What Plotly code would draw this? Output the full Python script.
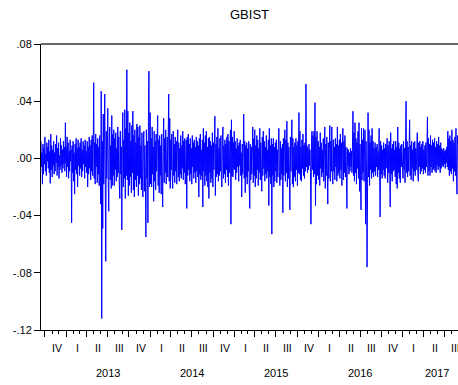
import pandas as pd
import plotly.graph_objects as go

# Daily GBIST returns (in percent), grouped by year
ret_2012 = [1.2, -0.6, 0.4, -1.8, 1.0, -1.1, 0.7, -0.4, 1.5, -0.9, 0.3, -1.2, 1.1, -0.2, 0.8, -0.7,
            1.3, -1.0, 0.5, -1.75, 1.7, -0.8, 0.9, -1.3, 0.6, -0.5, 1.2, -1.1, 0.4, -0.9, 1.0, -0.3,
            1.6, -1.2, 0.7, -0.6, 1.1, -1.4, 0.2, -0.8, 1.4, -0.5, 0.9, -1.0, 0.6, -0.7, 1.2, -0.4,
            0.8, -0.9, 2.5, -0.3]
ret_2013 = [0.8, -1.3, 1.5, -0.6, 1.1, -1.4, 0.5, -0.9, 1.3, -0.2,
            0.6, -4.5, 0.9, -1.0, 1.2, -1.6, 0.4, -2.5, 1.0, -0.8,
            1.4, -1.1, 0.7, -2.0, 1.3, -0.5, 0.8, -1.2, 1.1, -0.7,
            1.4, -1.3, 0.6, -0.9, 1.2, -0.4, 0.9, -1.4, 1.3, -0.6,
            0.5, -1.0, 1.2, -2.0, 0.8, -1.1, 1.5, -0.7, 0.9, -1.5,
            1.3, -0.9, 1.6, -1.2, 0.7, 5.3, -1.4, 1.1, -1.8, 1.7,
            -0.6, 1.0, -1.7, 1.4, -1.1, 0.8, -1.9, 1.6, -0.9, -3.2,
            4.7, -11.2, 1.2, -4.9, 3.1, -1.8, 0.6, 4.5, -2.2, -7.2,
            1.9, -1.4, 0.8, 3.5, -1.6, -3.7, 1.2, 2.2, -1.5, 0.9,
            -2.1, 3.0, -1.9, 1.7, -1.2, 2.0, -1.9, 1.4, -0.8, 1.8,
            -1.6, 0.7, -1.3, 2.2, -1.0, 1.5, -1.8, -2.8, 1.9, -1.1,
            0.8, -5.0, 1.6, 3.2, -2.0, 1.3, -1.4, 3.4, -2.8, 2.1,
            -1.2, 6.2, -1.5, 3.3, -2.6, 1.8, -1.9, 2.5, -1.3, 1.2,
            -2.4, 2.3, -1.0, 3.3, -2.2, 1.6, -2.7, 2.0, -1.5, 1.1,
            -2.0, 2.4, -1.2, 2.2, -2.6, 1.5, -1.8, 2.3, -1.4, 0.9,
            -2.2, 1.8, -1.1, -2.7, 1.4, 1.9, -2.3, 0.9, -1.6, -5.5,
            2.0, -1.4, 1.2, -4.5, 2.6, 6.1, -2.0, 1.5]
ret_2014 = [3.2, -1.8, 1.4, -2.0, 2.2, -1.1, 0.8, -3.0, 1.9, -1.6,
            1.2, -2.2, 1.7, -0.9, 1.0, 3.0, -1.9, 1.3, -2.4, 1.6,
            -1.2, 0.9, -2.5, 1.7, -1.5, -3.4, 1.1, 2.8, -1.7, 1.4,
            -1.0, 2.0, -1.8, 0.9, 1.5, -1.3, 0.6, 4.5, -1.6, 2.8,
            -2.1, 1.3, -0.8, 1.7, -1.4, -2.1, 1.9, -1.2, 1.0, -1.7,
            1.5, -0.9, 1.2, -1.8, 0.8, 2.0, -1.3, 1.1, -1.6, 0.7,
            -1.1, 1.6, -1.4, 0.9, -0.7, 1.9, -1.5, 1.2, -1.0, 1.4,
            -1.8, 0.6, 1.3, -3.5, 1.5, -1.2, 1.7, -0.8, 1.0, -1.6,
            1.4, -1.1, 0.7, -1.8, 1.6, -0.6, 1.1, -1.4, 1.3, -1.0,
            0.8, -1.7, 1.5, -0.9, 1.2, -1.3, 0.9, -2.7, 1.4, -1.1,
            1.7, -1.5, 0.6, -1.2, 1.3, -3.4, 2.1, -0.9, 1.1, -1.9,
            1.6, -1.2, 1.9, -1.6, 0.8, -2.0, 1.4, -2.8, 1.5, -1.0,
            1.2, -1.7, 0.9, -1.4, 1.8, -2.0, 1.1, -0.8, 1.3, 2.95,
            -2.6, 1.0, -1.3, 1.5, -1.1, 2.1, -1.6, 0.7, -1.2, 1.4,
            -0.9, 1.6, -1.5, -2.0, 1.2, 2.2, -1.4, 0.9, -1.1, 1.3,
            -1.7, 1.0, -0.8, 1.5, -1.3, 1.7, -1.9, 1.2, -1.0, 0.8,
            2.0, -4.6, 2.7, -1.2, 1.5, -1.3, 1.1, -0.7]
ret_2015 = [1.9, -0.8, 1.2, -1.5, 0.7, -1.0, 1.4, -0.6, 0.9, -1.6,
            1.1, -0.5, 1.3, -1.2, 0.4, -2.7, 1.0, -1.1, 0.6, 3.1,
            -1.4, 1.2, -2.4, 0.9, -1.3, 1.1, -1.8, 0.7, -0.9, 1.2,
            -2.0, -3.5, 1.0, -1.5, 0.8, -1.1, 0.5, 2.2, -1.7, 1.4,
            -1.2, 2.0, -2.0, 0.9, -1.4, 1.6, -0.8, 1.3, -1.9, 0.7,
            -1.0, 2.1, -1.5, 1.1, -0.9, -2.3, 1.5, -1.2, 1.9, -0.7,
            1.2, -1.6, 0.8, -1.1, 1.6, -1.4, 0.6, -0.9, 1.3, -3.3,
            2.1, -1.3, 0.9, -1.8, 1.4, -5.3, 1.0, -1.2, 1.4, -2.0,
            0.8, -1.6, 1.1, -0.9, 1.3, -1.7, 0.6, -1.3, 0.9, 2.1,
            -1.0, -1.9, 1.2, -1.5, 0.7, -1.1, 1.0, -3.8, 1.4, -1.2,
            0.9, 2.0, -1.6, 1.3, -1.0, 2.6, -2.0, 1.1, -1.4, 0.8,
            -1.2, -3.6, 1.5, -0.9, 1.2, 2.7, -1.8, 1.4, -2.0, 0.8,
            -1.3, 1.1, -1.6, 1.4, -0.8, 0.9, -1.9, 1.2, -1.0, 3.2,
            -1.1, 1.9, -1.5, 0.8, -1.6, 1.3, -0.7, 1.7, -1.2, 0.9,
            -1.4, 1.1, -0.9, 5.2, -0.6, 0.9, -1.0, 0.7, -0.8, 1.0,
            -0.5, 0.6, -1.0, -4.6, 1.2, 1.9, -0.8, 1.6, -1.3, 1.9,
            -1.1, 3.9, -3.3, 1.5, -1.8, 1.9, -1.2, 0.8]
ret_2016 = [1.2, -1.5, 0.8, -1.9, 1.8, -0.7, 1.1, -1.3, 0.6, -1.0,
            1.4, -1.6, 0.9, 2.2, -2.1, 1.0, -1.2, 1.5, -0.8, -3.2,
            1.1, -1.4, 0.7, 2.3, -1.6, 1.2, -0.9, 2.2, -1.1, -1.8,
            1.3, -0.9, 0.8, -1.5, 1.4, -0.6, 1.0, -1.6, 2.2, -1.2,
            0.9, -1.0, 1.3, -1.4, 1.7, -0.8, 1.1, -1.9, 0.6, 2.1,
            -1.5, 1.2, -1.0, 1.6, -1.3, 0.8, -0.9, -3.5, 0.7, -0.5,
            0.6, -1.1, 0.4, -0.9, 0.7, -0.6, 0.5, -1.0, 0.8, 3.3,
            -1.2, 1.8, -1.6, 2.5, -1.0, 1.4, -1.8, 1.1, -0.7, 1.9,
            -1.4, 2.5, -2.3, 1.0, -1.2, -3.6, 2.1, -1.5, 1.3, -1.0,
            2.1, -1.6, 0.9, 2.0, -4.6, 1.2, -1.1, -7.6, 1.4, 3.2,
            -1.3, 2.0, -1.9, 1.1, -0.8, 1.6, -1.4, 2.1, -1.0, 1.2,
            -1.3, 0.7, -0.9, 1.1, -1.2, 0.8, -0.6, 1.0, -1.3, 0.5,
            -0.8, 2.1, -0.9, -4.1, 1.2, -1.1, 0.9, -1.4, 0.6, -0.8,
            1.1, -1.2, 0.7, -1.4, 1.0, -0.7, 0.8, 1.4, -1.7, 0.9,
            -1.0, 1.2, -0.6, -3.4, 1.8, -1.1, 0.7, -1.6, 1.0, -0.9,
            1.2, -0.8, 0.6, -1.3, 1.2, -1.8, 0.8, -2.1, 2.2, -1.0,
            1.1, -1.4, 0.7, -1.7, 0.9, -0.6, 1.0, -1.2]
ret_2017 = [1.0, -1.4, 1.2, -0.8, 0.7, -1.7, 0.9, 4.0, -1.0, 1.2,
            -1.3, 0.8, -0.9, 1.1, 2.7, -1.2, 0.9, -1.5, 1.2, -0.7,
            0.6, -1.6, 1.1, -0.9, 1.2, -1.2, 0.7, -0.8, 1.0, 1.8,
            -0.9, -1.6, 1.1, -0.6, 1.2, -1.1, 0.8, -0.9, 1.0, -0.7,
            1.2, -1.1, 0.6, -0.8, 0.9, -1.0, 1.1, -0.6, 0.8, 2.9,
            -1.2, 1.4, -0.9, 1.0, -1.2, 1.6, -0.6, 0.9, -1.0, 1.3,
            -0.8, 1.1, -0.7, 1.4, -0.9, 0.8, -1.0, 1.2, -0.5, 1.0,
            -0.8, 1.5, -0.6, 0.9, -1.0, 1.1, -0.7, 0.7, -0.5, 0.6,
            -0.6, 0.7, -0.4, 0.5, -0.7, 0.6, -0.3, 0.8, -0.6, 1.9,
            -0.8, 1.4, -1.2, 1.6, -0.9, 1.2, -1.1, 2.0, -0.7, 1.3,
            -1.6, 1.1, -0.9, 1.5, -1.2, 2.1, -0.8, -2.5, 1.6, 1.0]

year_spans = [("2012-09-14", "2012-12-31", ret_2012),
              ("2013-01-01", "2013-12-31", ret_2013),
              ("2014-01-01", "2014-12-31", ret_2014),
              ("2015-01-01", "2015-12-31", ret_2015),
              ("2016-01-01", "2016-12-31", ret_2016),
              ("2017-01-01", "2017-08-30", ret_2017)]

y_ticks = [-0.12, -0.08, -0.04, 0.0, 0.04, 0.08]
y_tick_text = ["-.12", "-.08", "-.04", ".00", ".04", ".08"]
quarter_names = ["I", "II", "III", "IV"]
year_labels = ["2013", "2014", "2015", "2016", "2017"]
year_label_dates = ["2013-07-02", "2014-07-02", "2015-07-02", "2016-07-01", "2017-05-31"]

dates, values = [], []
for start, end, vals in year_spans:
    dates.extend(pd.date_range(start, end, periods=len(vals)))
    values.extend(v / 100 for v in vals)

fig = go.Figure()
fig.add_trace(go.Scatter(x=dates, y=values, mode="lines",
                         line=dict(color="#0000FF", width=1), hoverinfo="skip",
                         showlegend=False))

FONT = "Liberation Sans, Arial, sans-serif"
H, T, B = 385, 44, 55
plot_h = H - T - B

def paper_y(py):
    return (H - B - py) / plot_h

ann = []
for q in pd.period_range("2012Q4", "2017Q4", freq="Q"):
    mid = q.start_time + (q.end_time - q.start_time) / 2
    ann.append(dict(x=mid, y=paper_y(348), xref="x", yref="paper", showarrow=False,
                    text=quarter_names[q.quarter - 1], xanchor="center", yanchor="middle",
                    xshift=1, font=dict(family=FONT, size=10.5, color="black")))
for lab, d in zip(year_labels, year_label_dates):
    ann.append(dict(x=d, y=paper_y(373), xref="x", yref="paper", showarrow=False,
                    text=lab, xanchor="center", yanchor="middle",
                    font=dict(family=FONT, size=11, color="black")))

fig.update_layout(
    width=458, height=385,
    margin=dict(l=41, r=0, t=T, b=B, autoexpand=False),
    paper_bgcolor="white", plot_bgcolor="white",
    title=dict(text="GBIST", x=0.5, xref="paper", xanchor="center",
               y=1 - 14 / H, yref="container", yanchor="middle",
               font=dict(family=FONT, size=13, color="black")),
    annotations=ann,
    shapes=[dict(type="line", xref="paper", yref="paper", x0=0, x1=1, y0=1, y1=1,
                 line=dict(color="#333333", width=1.5))],
    xaxis=dict(type="date", range=["2012-09-14", "2017-08-30"],
               showgrid=False, zeroline=False, showline=True, linecolor="black", linewidth=1,
               ticks="outside", ticklen=6, tickcolor="black", tickwidth=1,
               tick0="2012-10-01", dtick="M3", showticklabels=False,
               minor=dict(ticks="outside", ticklen=3, tickcolor="black", dtick="M1",
                          tick0="2012-10-01", showgrid=False)),
    yaxis=dict(range=[-0.12, 0.08], tickvals=y_ticks, ticktext=y_tick_text,
               showgrid=False, zeroline=False, showline=True, linecolor="black", linewidth=1,
               ticks="outside", ticklen=6, tickcolor="black",
               tickfont=dict(family=FONT, size=11, color="black")),
)

fig.write_html("out.html", config={"displayModeBar": False},
               post_script=["document.body.style.margin='0';document.body.style.overflow='hidden';"])
